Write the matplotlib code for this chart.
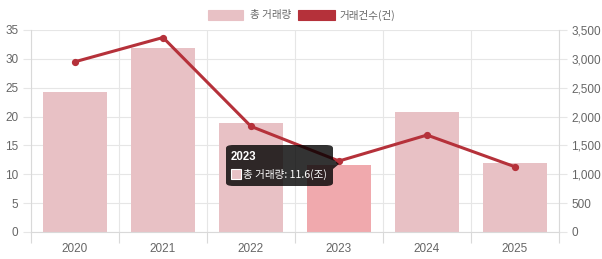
import matplotlib
matplotlib.use("Agg")
import matplotlib.pyplot as plt
from matplotlib.patches import Rectangle, FancyBboxPatch, Polygon
from matplotlib.ticker import FuncFormatter, MultipleLocator, FixedLocator

plt.rcParams['font.family'] = ['Liberation Sans', 'Noto Sans CJK KR', 'DejaVu Sans']

years = ["2020", "2021", "2022", "2023", "2024", "2025"]
volume_tril = [24.2, 31.8, 18.9, 11.6, 20.8, 12.0]          # 총 거래량 (조)
deal_count = [2950, 3370, 1830, 1230, 1680, 1130]           # 거래건수 (건)
legend_labels = ["총 거래량", "거래건수(건)"]
highlight_idx = 3

BAR_COLOR = "#e8c1c5"
BAR_HL = "#f0a9ad"
LINE_COLOR = "#b5313a"
GRID = "#e6e6e6"
AXIS = "#d9d9d9"
TEXT = "#666666"
KR = ['Noto Sans CJK KR', 'DejaVu Sans']

W, H = 602, 259
fig = plt.figure(figsize=(W / 100, H / 100), dpi=100)
ax = fig.add_axes([31 / W, 1 - 232 / H, (559 - 31) / W, (232 - 30) / H])
ax2 = ax.twinx()

x = list(range(len(years)))
colors = [BAR_HL if i == highlight_idx else BAR_COLOR for i in x]
ax.bar(x, volume_tril, width=0.72, color=colors, zorder=2)

ax.set_xlim(-0.5, len(years) - 0.5)
ax.set_ylim(0, 35)
ax.yaxis.set_major_locator(MultipleLocator(5))
ax.set_xticks(x)
ax.set_xticklabels(years)
ax.xaxis.set_minor_locator(FixedLocator([i - 0.5 for i in range(len(years) + 1)]))
ax.tick_params(axis='x', which='major', length=0, pad=8, labelsize=8.5, labelcolor=TEXT)
ax.tick_params(axis='x', which='minor', length=8, color=AXIS, width=0.8)
ax.tick_params(axis='y', length=6, color=GRID, width=0.8, labelsize=8.5, labelcolor=TEXT, pad=3)
ax.grid(True, axis='y', color=GRID, linewidth=0.8, zorder=0)
ax.grid(True, axis='x', which='minor', color=GRID, linewidth=0.8, zorder=0)
ax.set_axisbelow(True)
for side in ["top", "right"]:
    ax.spines[side].set_visible(False)
for side in ["left", "bottom"]:
    ax.spines[side].set_color(AXIS)
    ax.spines[side].set_linewidth(0.8)

ax2.plot(x, deal_count, color=LINE_COLOR, linewidth=2.2, marker='o', markersize=4.2,
         zorder=3, solid_capstyle='round')
ax2.set_ylim(0, 3500)
ax2.yaxis.set_major_locator(MultipleLocator(500))
ax2.yaxis.set_major_formatter(FuncFormatter(lambda v, p: f"{int(v):,}"))
ax2.tick_params(axis='y', length=6, color=GRID, width=0.8, labelsize=8.5, labelcolor=TEXT, pad=3)
for side in ["top", "left", "bottom"]:
    ax2.spines[side].set_visible(False)
ax2.spines["right"].set_color(AXIS)
ax2.spines["right"].set_linewidth(0.8)

# Legend drawn at the top centre
def px(xp, yp):
    return xp / W, 1 - yp / H

fig.patches.append(Rectangle(px(208, 20), 35 / W, 10 / H, transform=fig.transFigure,
                             facecolor=BAR_COLOR, edgecolor=BAR_COLOR, linewidth=0.8))
fig.text(*px(250, 15), legend_labels[0], fontsize=7.6, color=TEXT, va='center', ha='left',
         family=KR)
fig.patches.append(Rectangle(px(298, 20), 37 / W, 10 / H, transform=fig.transFigure,
                             facecolor=LINE_COLOR, edgecolor=LINE_COLOR, linewidth=0.8))
fig.text(*px(340, 15), legend_labels[1], fontsize=7.6, color=TEXT, va='center', ha='left',
         family=KR)

# Hover tooltip for the highlighted year
tip = FancyBboxPatch(px(226, 186), (333 - 226) / W, (186 - 145) / H,
                     boxstyle="round,pad=0,rounding_size=0.012", transform=fig.transFigure,
                     facecolor=(0, 0, 0, 0.8), edgecolor='none', zorder=10)
fig.patches.append(tip)
fig.patches.append(Polygon([px(333, 159), px(339, 164), px(333, 169)], closed=True,
                           transform=fig.transFigure, facecolor=(0, 0, 0, 0.8),
                           edgecolor='none', zorder=10))
fig.text(*px(231, 157), years[highlight_idx], fontsize=8.3, color='white', fontweight='bold',
         va='center', ha='left', zorder=11)
fig.patches.append(Rectangle(px(231, 179), 10 / W, 10 / H, transform=fig.transFigure,
                             facecolor=BAR_COLOR, edgecolor='white', linewidth=0.8, zorder=11))
fig.text(*px(243, 174), f"총 거래량: {volume_tril[highlight_idx]}(조)", fontsize=7.6,
         color='white', va='center', ha='left', zorder=11, family=KR)

fig.savefig("out.png", dpi=100)
